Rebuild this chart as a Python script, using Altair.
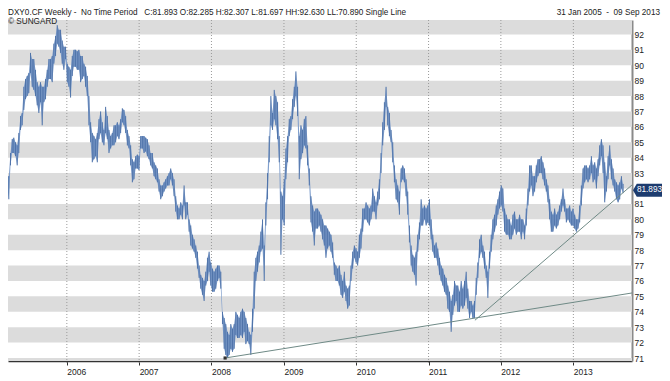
import altair as alt
import pandas as pd

# ---------------- data ----------------
start_date = "2005-01-31"
end_date = "2013-09-09"

high = [
    85.4, 84.8, 84.3, 83.0, 82.8, 82.8, 84.3, 85.2, 85.3, 85.0,
    84.8, 85.6, 86.7, 86.9, 88.6, 89.1, 89.3, 89.5, 90.8, 90.4,
    90.4, 89.7, 88.9, 88.6, 88.9, 88.6, 88.6, 89.1, 89.7, 90.4,
    90.4, 90.6, 91.4, 91.9, 92.6, 92.3, 92.3, 91.6, 91.2, 91.2,
    90.1, 89.9, 89.7, 90.6, 91.0, 91.0, 90.9, 91.0, 90.6, 90.6,
    90.1, 89.9, 89.3, 88.0, 86.3, 85.6, 85.4, 85.2, 85.6, 86.5,
    87.0, 86.3, 85.8, 87.3, 86.7, 85.8, 85.4, 85.6, 86.1, 86.1,
    86.3, 86.1, 86.5, 87.2, 87.1, 86.7, 85.8, 85.4, 84.8, 83.9,
    83.7, 84.1, 84.2, 84.1, 85.4, 85.4, 85.4, 85.3, 85.2, 84.8,
    84.3, 84.3, 83.7, 83.5, 83.3, 82.6, 82.2, 82.2, 82.4,
    # block 2
    82.6, 82.8, 83.0, 83.3, 83.0, 82.6, 81.5, 80.9, 80.7, 81.1,
    80.9, 82.2, 81.1, 81.1, 80.0, 79.6, 79.0, 78.7, 78.3, 77.9,
    77.0, 76.4, 76.2, 76.0, 76.6, 77.5, 77.9, 77.2, 76.8, 76.6,
    76.8, 77.0, 77.0, 76.6, 74.0, 73.6, 73.2, 72.7, 72.5, 73.2,
    72.9, 73.2, 74.0, 73.8, 73.6, 74.0, 74.2, 74.0, 73.6, 73.2,
    72.7, 72.5, 74.2, 76.6, 77.5, 77.9, 78.3, 79.2, 80.0, 78.3,
    81.1, 83.0, 85.4, 88.0, 86.9, 88.4, 88.0, 87.6, 85.4, 81.8,
    81.5, 82.6, 84.6, 85.4, 86.5, 86.7, 87.8, 88.6, 89.6, 88.6,
    85.4, 86.1, 85.8, 86.5, 86.7, 84.8, 83.3, 81.5, 80.9, 80.5,
    80.7, 80.7, 80.5, 80.3, 80.0, 79.6,
    # block 3
    79.6, 79.4, 79.2, 79.0, 78.5, 77.2, 77.0, 76.8, 77.0, 76.4,
    76.0, 76.6, 75.7, 75.5, 75.7, 77.0, 77.9, 78.3, 78.1, 77.9,
    79.0, 79.4, 80.7, 80.7, 81.1, 80.9, 80.7, 80.9, 82.0, 81.5,
    81.1, 81.8, 82.6, 84.3, 86.3, 87.6, 88.6, 87.3, 86.9, 85.8,
    85.0, 83.5, 82.6, 82.2, 81.8, 83.3, 83.5, 83.3, 82.6, 81.8,
    79.6, 78.3, 77.7, 77.5, 77.9, 79.0, 79.8, 81.3, 80.7, 80.9,
    80.7, 80.9, 81.3, 80.0, 79.0, 78.3, 78.5, 78.1, 77.5, 77.0,
    76.8, 76.4, 76.2, 75.7, 75.3, 74.7, 75.1, 76.0, 75.7, 75.7,
    75.3, 76.0, 75.5, 76.0, 76.6, 75.5, 74.7, 74.7, 74.4, 74.7,
    76.2, 77.2, 78.7, 79.0, 78.3, 77.9,
    # block 4
    77.0, 76.6, 77.9, 79.0, 80.0, 80.3, 80.9, 81.3, 81.8, 82.2,
    82.0, 80.7, 80.3, 80.0, 80.0, 79.6, 80.3, 80.5, 80.0, 80.0,
    80.3, 80.0, 80.0, 79.6, 80.7, 82.0, 83.5, 83.5, 82.8, 82.8,
    83.5, 83.9, 83.9, 84.1, 83.7, 83.3, 82.6, 82.2, 81.3, 80.5,
    80.3, 80.7, 80.3, 80.5, 80.9, 81.3, 82.0, 81.3, 80.7, 80.7,
    80.9, 80.5, 80.7, 80.3, 80.0, 80.0, 80.9, 82.2, 83.3, 83.5,
    83.5, 83.3, 83.5, 84.1, 83.5, 83.7, 83.3, 83.9, 84.8, 85.2,
    84.8, 83.7, 82.8, 84.1, 84.8, 83.9, 83.3, 82.6, 82.4, 82.2,
    82.4, 82.8, 82.3,
]

low = [
    84.3, 83.7, 83.3, 82.2, 82.2, 81.3, 83.5, 84.3, 84.3, 84.1,
    83.5, 84.3, 85.8, 86.1, 87.1, 87.8, 88.0, 88.2, 89.5, 88.6,
    88.4, 88.0, 87.4, 86.9, 87.6, 86.1, 87.6, 87.8, 88.6, 89.1,
    89.1, 88.9, 90.1, 90.6, 91.4, 91.2, 90.8, 90.1, 89.7, 90.4,
    88.9, 88.6, 87.9, 89.3, 89.9, 89.9, 89.7, 89.7, 88.9, 89.1,
    89.3, 88.6, 88.0, 86.1, 85.0, 83.7, 83.9, 84.1, 83.7, 85.2,
    85.6, 85.0, 84.8, 85.6, 85.2, 84.3, 84.6, 84.8, 84.8, 85.0,
    85.4, 85.2, 85.6, 86.3, 86.1, 85.6, 84.8, 84.6, 83.5, 82.4,
    82.6, 83.3, 83.3, 83.2, 84.6, 84.6, 84.3, 84.4, 84.1, 83.9,
    83.5, 83.3, 82.8, 82.6, 82.4, 81.8, 81.3, 81.5, 81.8,
    # block 2
    82.0, 82.2, 82.2, 82.6, 82.2, 81.5, 80.5, 80.0, 80.0, 80.3,
    80.0, 80.9, 80.0, 80.3, 79.2, 78.3, 78.1, 77.9, 77.5, 76.8,
    76.2, 75.5, 75.1, 74.7, 75.7, 76.0, 76.6, 75.7, 75.3, 75.3,
    75.5, 76.0, 76.2, 75.5, 73.2, 71.6, 71.2, 71.0, 71.2, 71.6,
    71.4, 71.6, 72.5, 72.3, 72.3, 72.5, 72.3, 72.7, 71.9, 72.1,
    71.9, 71.2, 72.7, 74.2, 76.0, 76.6, 77.2, 77.9, 78.1, 76.0,
    79.6, 81.3, 83.7, 86.1, 85.8, 86.5, 86.1, 85.2, 83.7, 77.7,
    80.0, 79.6, 82.6, 83.7, 85.4, 85.8, 86.5, 87.3, 88.0, 86.7,
    82.6, 83.9, 84.3, 84.8, 84.6, 83.5, 82.2, 79.8, 79.2, 78.3,
    79.4, 79.4, 79.6, 79.2, 78.7, 78.3,
    # block 3
    77.5, 78.1, 78.3, 77.9, 77.5, 76.4, 76.0, 76.0, 75.7, 75.1,
    74.9, 75.3, 74.7, 74.2, 74.4, 76.0, 76.8, 77.5, 77.2, 77.0,
    77.5, 78.1, 79.2, 80.0, 80.0, 79.8, 79.6, 80.0, 80.5, 80.5,
    80.0, 80.9, 81.3, 83.0, 84.8, 85.8, 87.3, 86.1, 85.4, 85.0,
    83.7, 82.4, 81.3, 81.1, 80.3, 82.4, 82.6, 82.4, 81.5, 80.3,
    78.5, 77.0, 76.6, 76.4, 75.7, 77.9, 78.7, 79.6, 79.6, 80.0,
    79.6, 79.8, 79.6, 78.7, 77.9, 77.5, 77.5, 77.0, 76.4, 76.0,
    75.7, 75.3, 75.1, 74.2, 74.0, 72.7, 73.8, 74.4, 74.7, 74.0,
    74.0, 74.4, 74.2, 74.4, 74.9, 74.2, 73.6, 74.0, 73.6, 73.6,
    75.1, 76.2, 77.5, 77.9, 77.5, 76.8,
    # block 4
    76.2, 74.9, 76.8, 77.9, 78.7, 79.2, 79.6, 80.3, 80.7, 80.9,
    80.5, 79.2, 79.0, 79.0, 78.7, 78.7, 79.0, 79.4, 79.0, 79.2,
    79.2, 78.7, 79.2, 78.7, 79.6, 80.9, 81.8, 82.2, 81.5, 81.8,
    82.4, 82.8, 83.0, 83.0, 82.6, 82.2, 81.8, 81.1, 80.0, 79.2,
    79.2, 79.6, 79.4, 79.6, 80.0, 80.5, 80.9, 80.5, 79.8, 80.0,
    79.8, 79.6, 79.6, 79.4, 79.2, 79.4, 79.8, 80.9, 82.0, 82.4,
    82.6, 82.4, 82.6, 83.0, 82.4, 82.6, 82.0, 82.8, 83.5, 84.1,
    83.0, 81.1, 81.8, 82.6, 83.5, 82.6, 82.2, 81.8, 81.3, 81.1,
    81.3, 82.0, 81.7,
]

last_close = [81.893]

# trend lines (start and end points)
trend_id = ["t1", "t1", "t2", "t2"]
trend_date = ["2008-03-10", "2013-10-24", "2011-08-23", "2013-10-24"]
trend_value = [71.0, 75.22, 73.45, 82.23]

years = list(range(2006, 2014))
# 82 sits under the last-value flag in the reference, so it is not shown
y_ticks = [v for v in range(71, 93) if v != 82]
band_lo = list(range(70, 93, 2))

NB = "\u00a0"
title_text = ("DXY0.CF Weekly -" + NB * 2 + "No Time Period" + NB * 3 +
              "C:81.893 O:82.285 H:82.307 L:81.697 HH:92.630 LL:70.890 Single Line")
source_text = "\u00a9 SUNGARD"
range_text = "31 Jan 2005" + NB * 2 + "-" + NB * 2 + "09 Sep 2013"

# ---------------- build tables ----------------
dates = pd.date_range(start_date, end_date, periods=len(high))
df = pd.DataFrame({"date": dates, "high": high, "low": low})
bands = pd.DataFrame({"lo": band_lo, "hi": [b + 1 for b in band_lo]})
grid = pd.DataFrame({"date": [pd.Timestamp(f"{y}-01-01") for y in years]})
trend = pd.DataFrame({"id": trend_id, "date": pd.to_datetime(trend_date),
                      "value": trend_value})
lastdf = pd.DataFrame({"close": last_close,
                       "label": [f"{v:.3f}" for v in last_close]})

W, H = 624, 341
PAD = {"left": 0, "top": 12, "right": 30, "bottom": 14}
FONT = "Liberation Sans"

xscale = alt.Scale(domain=[alt.DateTime(year=2005, month=3, date=10),
                           alt.DateTime(year=2013, month=10, date=24)])
yscale = alt.Scale(domain=[70.806, 92.935], nice=False, zero=False)

x_axis = alt.Axis(
    values=[alt.DateTime(year=y, month=1, date=1) for y in years],
    format="%Y", labelAlign="left", labelFlush=False, grid=False,
    domainColor="#333333", domainWidth=1.5, tickColor="#333333", tickSize=4,
    labelPadding=2, labelFontSize=8.5, labelColor="#222222", labelFont=FONT,
    title=None,
)
y_axis = alt.Axis(
    orient="right", values=y_ticks, ticks=False, grid=False,
    domainColor="#8a8a8a", domainWidth=2, labelPadding=2,
    labelFontSize=8.5, labelColor="#222222", labelFont=FONT, title=None,
    labelBaseline="middle",
)

X = lambda f: alt.X(f, scale=xscale, axis=x_axis)
Y = lambda f: alt.Y(f, scale=yscale, axis=y_axis)

band_layer = alt.Chart(bands).mark_rect(color="#dcdcdc", clip=True).encode(
    x=alt.value(0), x2=alt.value(W),
    y=Y("lo:Q"), y2="hi:Q",
)

grid_layer = alt.Chart(grid).mark_rule(
    color="#9a9a9a", strokeDash=[1, 2], strokeWidth=1
).encode(
    x=X("date:T"), y=alt.value(0), y2=alt.value(H + 4),
)

area_layer = alt.Chart(df).mark_area(
    color="#809fcc", clip=True, opacity=1
).encode(
    x=X("date:T"), y=Y("low:Q"), y2="high:Q",
)

bar_layer = alt.Chart(df).mark_rule(
    color="#4f73a9", strokeWidth=1.0, clip=True
).encode(
    x=X("date:T"), y=Y("low:Q"), y2="high:Q",
)

trend_layer = alt.Chart(trend).mark_line(
    color="#6f8a86", strokeWidth=1, clip=True
).encode(
    x=X("date:T"), y=Y("value:Q"), detail="id:N",
)

dot_layer = alt.Chart(trend.iloc[[0]]).mark_square(
    color="#333333", size=10, opacity=1
).encode(
    x=X("date:T"), y=Y("value:Q"),
)

box_layer = alt.Chart(lastdf).mark_point(
    shape="M-1,0L-0.74,-0.45L1,-0.45L1,0.45L-0.74,0.45Z",
    size=841, filled=True, color="#1d3c6f", opacity=1, strokeWidth=0,
).encode(
    x=alt.value(W + 15.5), y=Y("close:Q"),
)

box_text = alt.Chart(lastdf).mark_text(
    color="white", fontSize=8.2, font=FONT, align="center", baseline="middle"
).encode(
    x=alt.value(W + 17.5), y=Y("close:Q"), text="label:N",
)

hdr = pd.DataFrame({"t": [title_text], "s": [source_text], "r": [range_text]})
title_layer = alt.Chart(hdr).mark_text(
    align="left", baseline="alphabetic", fontSize=8.2, font=FONT, color="#222222"
).encode(x=alt.value(0), y=alt.value(-5), text="t:N")
source_layer = alt.Chart(hdr).mark_text(
    align="left", baseline="alphabetic", fontSize=8.2, font=FONT, color="#222222"
).encode(x=alt.value(0), y=alt.value(4), text="s:N")
range_layer = alt.Chart(hdr).mark_text(
    align="right", baseline="alphabetic", fontSize=8.2, font=FONT, color="#222222"
).encode(x=alt.value(W + 28), y=alt.value(-5), text="r:N")

chart = alt.layer(
    band_layer, grid_layer, area_layer, bar_layer, trend_layer, dot_layer,
    box_layer, box_text, title_layer, source_layer, range_layer,
).properties(
    width=W, height=H,
    autosize=alt.AutoSizeParams(type="none"),
    padding=PAD,
    background="white",
).configure_view(stroke=None)

chart.save("out.html", embed_options={"renderer": "svg", "actions": False})
